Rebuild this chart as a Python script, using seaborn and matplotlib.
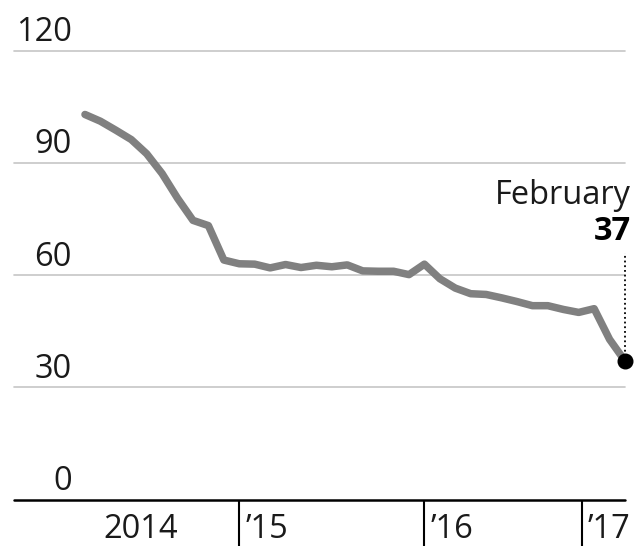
import matplotlib
matplotlib.use("Agg")
import matplotlib.pyplot as plt
import seaborn as sns
import pandas as pd

# Monthly readings, March 2014 through February 2017
months = pd.period_range("2014-03", "2017-02", freq="M").strftime("%Y-%m").tolist()
values = [102.9, 101.1, 98.7, 96.2, 92.4, 87.1, 80.5, 74.6, 73.2, 64.0,
          63.0, 62.9, 61.9, 62.8, 62.0, 62.6, 62.2, 62.7, 61.1, 61.0,
          61.0, 60.1, 62.9, 59.0, 56.5, 55.0, 54.8, 53.9, 52.9, 51.8,
          51.8, 50.8, 50.0, 51.0, 42.8, 37.0]

y_ticks = [0, 30, 60, 90, 120]
year_labels = ["2014", "\u201915", "\u201916", "\u201917"]
year_tick_pos = [10, 22, 32.2]          # year boundaries along the month index
first_year_label_pos = 3.6
last_label = "February"

df = pd.DataFrame({"month": months, "pos": range(len(values)), "value": values})

sns.set_style("white")
plt.rcParams["font.family"] = ["Open Sans", "DejaVu Sans"]
FS = 23.5

fig = plt.figure(figsize=(6.44, 5.46), dpi=100)
ax = fig.add_axes([14 / 644, 46.5 / 546, 611 / 644, 449 / 546])

# light horizontal gridlines, black baseline
for v in y_ticks:
    if v == 0:
        ax.axhline(v, color="black", lw=1.8, zorder=1, clip_on=False)
    else:
        ax.axhline(v, color="#c6c6c6", lw=1.2, zorder=0)

sns.lineplot(data=df, x="pos", y="value", ax=ax, color="#808080", lw=5.4,
             solid_joinstyle="round", solid_capstyle="round", zorder=3)
for ln in ax.lines:
    ln.set_clip_on(False)

last_x = df["pos"].iloc[-1]
last_y = df["value"].iloc[-1]

ax.set_xlim(-4.6, last_x)
ax.set_ylim(0, 120)

for s in ax.spines.values():
    s.set_visible(False)

ax.set_xlabel("")
ax.set_ylabel("")
ax.set_yticks([])
ax.set_xticks(year_tick_pos)
ax.set_xticklabels([])
ax.tick_params(axis="x", bottom=True, direction="out", length=34, width=1.5,
               color="black")

# y-axis value labels sitting above each gridline
for v in y_ticks:
    ax.annotate(str(v), xy=(58 / 611, v), xycoords=ax.get_yaxis_transform(),
                xytext=(0, 6.8), textcoords="offset points",
                ha="right", va="baseline", fontsize=FS, color="#1a1a1a")

# year labels under the axis
ax.annotate(year_labels[0], xy=(first_year_label_pos, 0), xytext=(0, -27.5),
            textcoords="offset points", ha="center", va="baseline",
            fontsize=FS, color="#1a1a1a", annotation_clip=False)
for pos, lab in zip(year_tick_pos, year_labels[1:]):
    ax.annotate(lab, xy=(pos, 0), xytext=(4.5, -27.5),
                textcoords="offset points", ha="left", va="baseline",
                fontsize=FS, color="#1a1a1a", annotation_clip=False)

# latest reading: dotted leader, dot and label
ax.plot([last_x, last_x], [last_y, 65.9], color="black", ls=(0, (1, 1.6)),
        lw=1.3, clip_on=False, zorder=4)
ax.plot([last_x], [last_y], marker="o", ms=10.5, color="black",
        clip_on=False, zorder=5)
ax.annotate(last_label, xy=(last_x, last_y), xytext=(4.5, 113),
            textcoords="offset points", ha="right", va="baseline",
            fontsize=FS, color="#1a1a1a", annotation_clip=False)
ax.annotate(f"{last_y:.0f}", xy=(last_x, last_y), xytext=(4.5, 87),
            textcoords="offset points", ha="right", va="baseline",
            fontsize=FS, fontweight="bold", color="black",
            annotation_clip=False)

fig.savefig("out.png", dpi=100, facecolor="white")
